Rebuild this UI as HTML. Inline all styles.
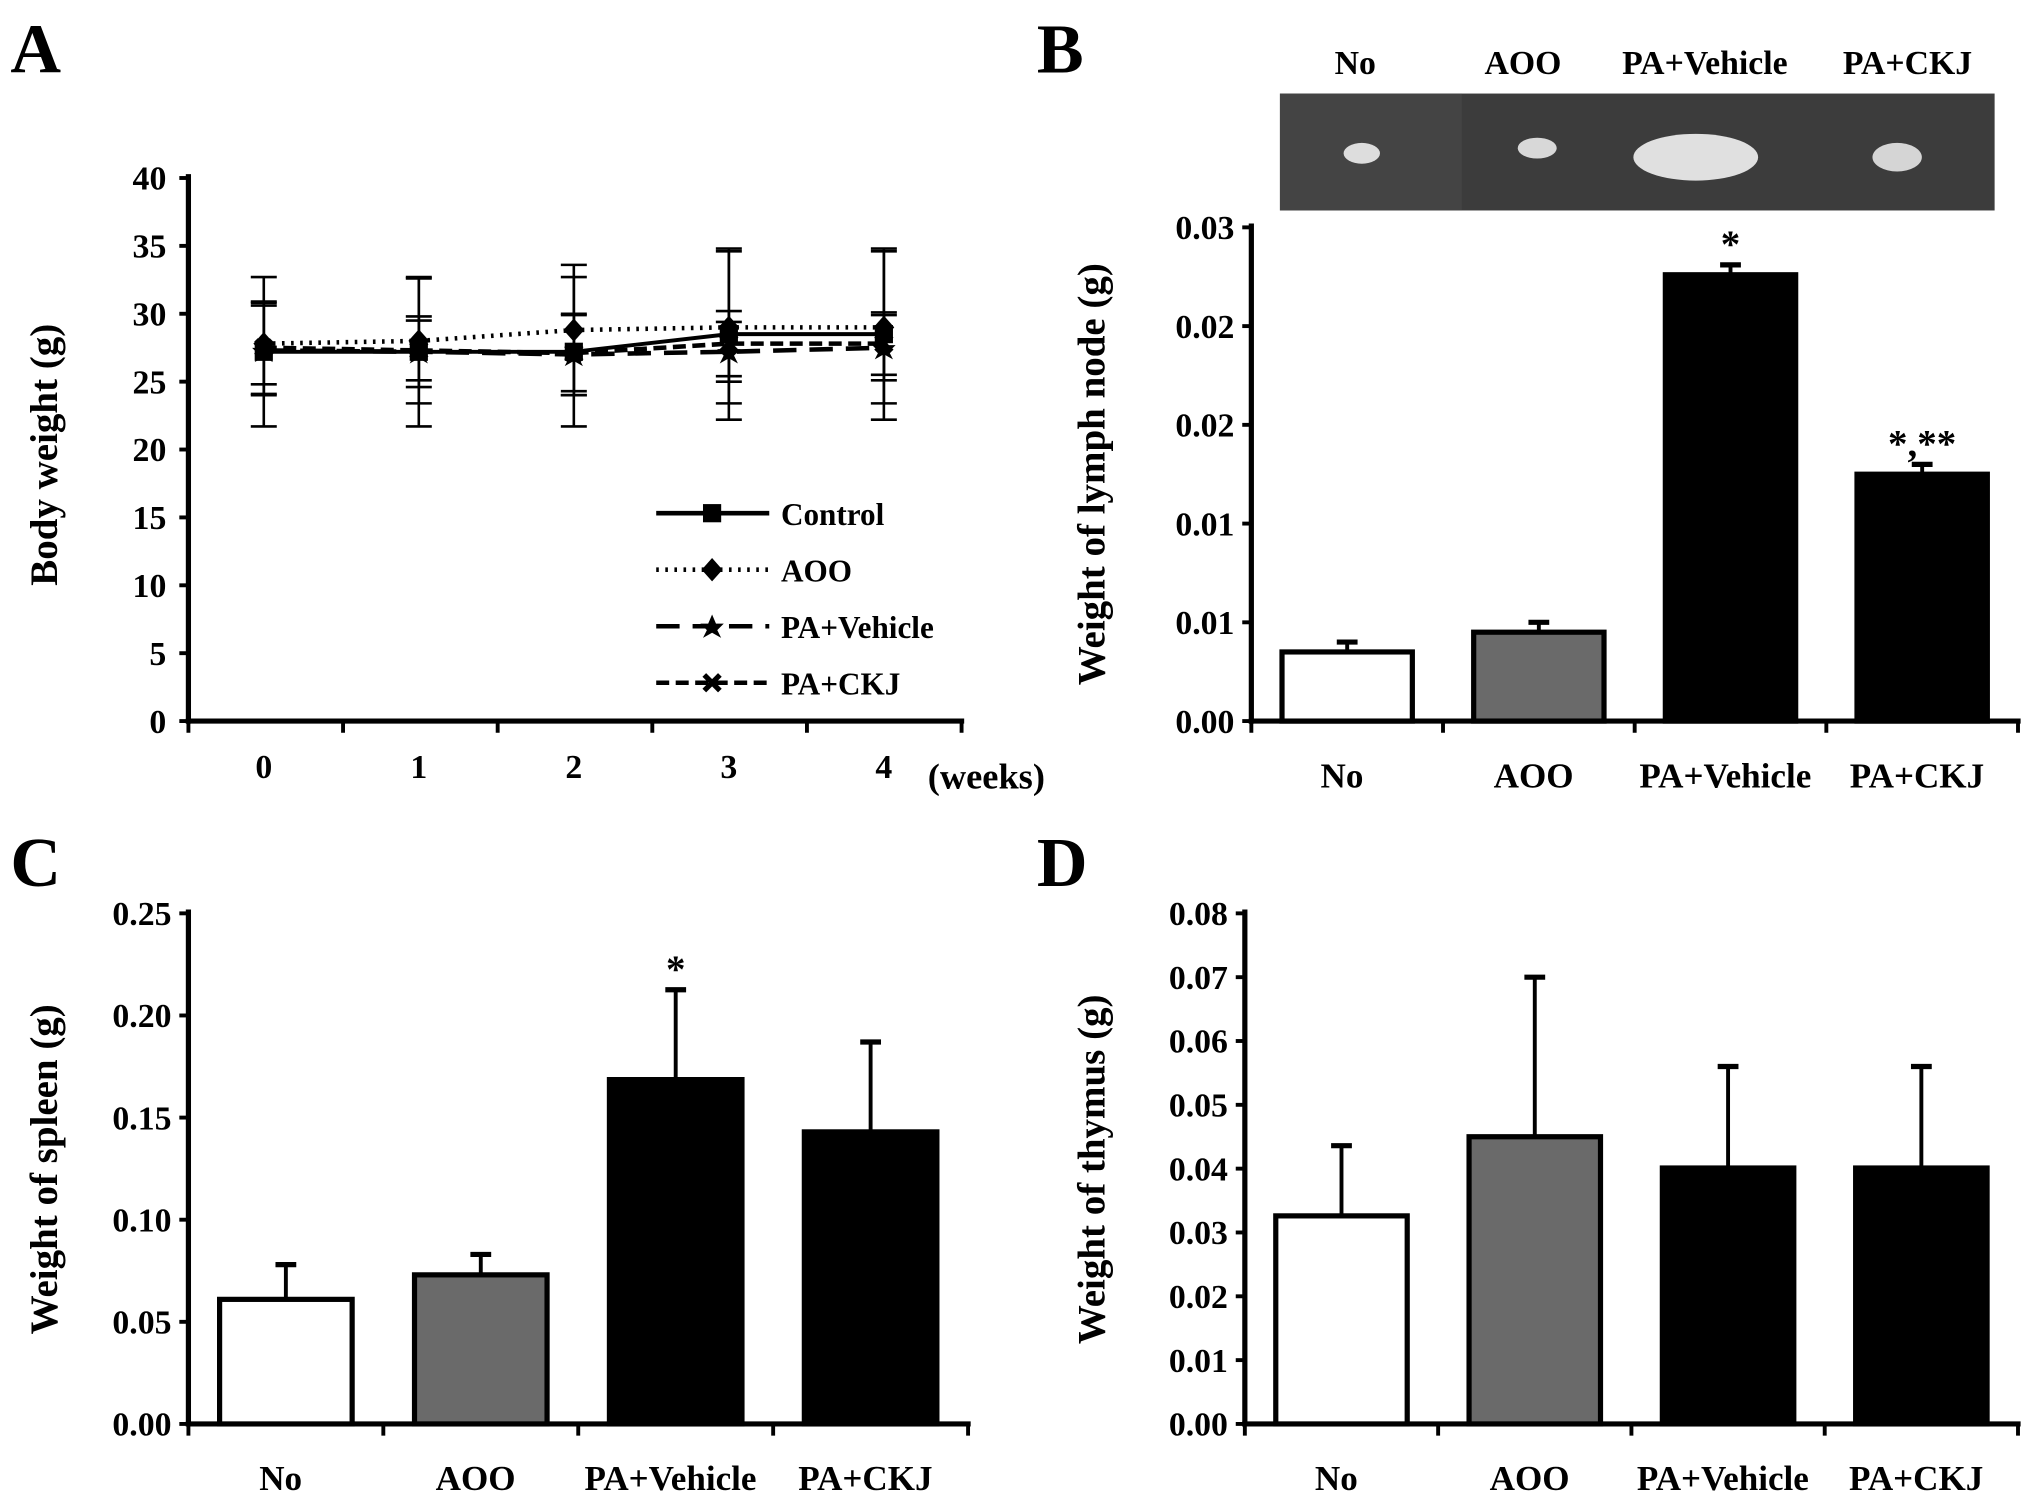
<!DOCTYPE html>
<html><head><meta charset="utf-8"><style>
html,body{margin:0;padding:0;background:#fff}
svg{display:block}
text{font-family:"Liberation Serif",serif;font-weight:bold;fill:#000}
</style></head><body>
<svg id="fig" width="2031" height="1498" viewBox="0 0 1563 1153" preserveAspectRatio="none" xmlns="http://www.w3.org/2000/svg">
<text x="8" y="56" font-size="54">A</text>
<text x="798" y="56" font-size="54">B</text>
<text x="8" y="682" font-size="54">C</text>
<text x="798" y="682" font-size="54">D</text>
<g>
<rect x="985" y="72" width="550" height="90" fill="#3c3c3c"/>
<rect x="985" y="72" width="140" height="90" fill="#444"/>
<ellipse cx="1048" cy="118" rx="14" ry="8" fill="#ddd"/>
<ellipse cx="1183" cy="114" rx="15" ry="8" fill="#d8d8d8"/>
<ellipse cx="1305" cy="121" rx="48" ry="18" fill="#e0e0e0"/>
<ellipse cx="1460" cy="121" rx="19" ry="11" fill="#d5d5d5"/>
</g>
<text x="1043" y="57" font-size="26" text-anchor="middle">No</text>
<text x="1172" y="57" font-size="26" text-anchor="middle">AOO</text>
<text x="1312" y="57" font-size="26" text-anchor="middle">PA+Vehicle</text>
<text x="1468" y="57" font-size="26" text-anchor="middle">PA+CKJ</text>
</svg>
<script>
// Panel A data
const weeks = [0,1,2,3,4];
const aTicks = [0,5,10,15,20,25,30,35,40];
const seriesNames = ['Control','AOO','PA+Vehicle','PA+CKJ'];
const controlVals = [27.2,27.2,27.2,28.5,28.5];
const aooVals = [27.8,28.0,28.8,29.0,29.0];
const vehicleVals = [27.3,27.2,27.0,27.2,27.5];
const ckjVals = [27.5,27.3,27.1,27.8,27.8];
const controlErr = [5.5,5.5,5.5,6.3,6.3];
const aooErr = [3.0,4.6,4.8,5.6,5.6];
const vehicleErr = [3.3,2.6,3.0,2.2,2.4];
const ckjErr = [3.4,2.2,2.8,2.4,2.3];
// Bar panels
const groups = ['No','AOO','PA+Vehicle','PA+CKJ'];
const lymphVals = [0.0035,0.0045,0.0226,0.0125];
const lymphErr = [0.0005,0.0005,0.0005,0.0005];
const lymphTicks = ['0.00','0.01','0.01','0.02','0.02','0.03'];
const spleenVals = [0.061,0.073,0.1686,0.143];
const spleenErr = [0.017,0.010,0.044,0.044];
const spleenTicks = ['0.00','0.05','0.10','0.15','0.20','0.25'];
const thymusVals = [0.0326,0.045,0.0401,0.0401];
const thymusErr = [0.011,0.025,0.0159,0.0159];
const thymusTicks = ['0.00','0.01','0.02','0.03','0.04','0.05','0.06','0.07','0.08'];

const NS='http://www.w3.org/2000/svg';
const svg=document.getElementById('fig');
function mk(tag,attrs,parent){const e=document.createElementNS(NS,tag);for(const k in attrs)e.setAttribute(k,attrs[k]);(parent||svg).appendChild(e);return e;}
function txt(x,y,s,size,anchor,parent){const t=mk('text',{x:x,y:y,'font-size':size,'text-anchor':anchor||'middle'},parent);t.textContent=s;return t;}

// ---- Panel A ----
const gA=mk('g',{});


const ax0=145, ay0=555, ayTop=137, axEnd=740;
const yA=v=>ay0-(v/40)*(ay0-ayTop);
const xA=w=>203+w*119.3;
mk('line',{x1:ax0,y1:ayTop-3,x2:ax0,y2:ay0+2,stroke:'#000','stroke-width':4},gA);
mk('line',{x1:ax0-2,y1:ay0,x2:axEnd+2,y2:ay0,stroke:'#000','stroke-width':4},gA);
aTicks.forEach(v=>{mk('line',{x1:ax0-7,y1:yA(v),x2:ax0,y2:yA(v),stroke:'#000','stroke-width':3},gA);
 const t=txt(128,yA(v)+9,String(v),26,'end',gA);
 
 });
for(let i=0;i<=5;i++){const x=ax0+i*(axEnd-ax0)/5;mk('line',{x1:x,y1:ay0,x2:x,y2:ay0+9,stroke:'#000','stroke-width':3},gA);}
weeks.forEach(w=>{const t=txt(xA(w),ay0+44,String(w),26,'middle',gA);
 
 });
const wk=txt(714,607,'(weeks)',28,'start',gA);


const ylA=txt(0,0,'Body weight (g)',30,'middle',gA);
ylA.setAttribute('transform','translate(44,350) rotate(-90)');


const allVals=[controlVals,aooVals,vehicleVals,ckjVals];
const allErr=[controlErr,aooErr,vehicleErr,ckjErr];
const dashes=['none','2,5','18,10','10,5'];
function marker(kind,x,y,parent){
 if(kind===0) return mk('rect',{x:x-7,y:y-7,width:14,height:14,fill:'#000'},parent);
 if(kind===1) return mk('polygon',{points:`${x},${y-9} ${x+8},${y} ${x},${y+9} ${x-8},${y}`,fill:'#000'},parent);
 if(kind===2) return mk('polygon',{points:`${x},${y-9} ${x+3},${y-2} ${x+9},${y-2} ${x+4},${y+3} ${x+7},${y+9} ${x},${y+5} ${x-7},${y+9} ${x-4},${y+3} ${x-9},${y-2} ${x-3},${y-2}`,fill:'#000'},parent);
 const g=mk('g',{},parent);mk('line',{x1:x-6,y1:y-6,x2:x+6,y2:y+6,stroke:'#000','stroke-width':4},g);mk('line',{x1:x+6,y1:y-6,x2:x-6,y2:y+6,stroke:'#000','stroke-width':4},g);return g;}
allVals.forEach((vals,si)=>{
 const g=mk('g',{},gA);
 
 
 vals.forEach((v,i)=>{const x=xA(weeks[i]),e=allErr[si][i];
  mk('line',{x1:x,y1:yA(v+e),x2:x,y2:yA(v-e),stroke:'#000','stroke-width':2},g);
  mk('line',{x1:x-10,y1:yA(v+e),x2:x+10,y2:yA(v+e),stroke:'#000','stroke-width':2},g);
  mk('line',{x1:x-10,y1:yA(v-e),x2:x+10,y2:yA(v-e),stroke:'#000','stroke-width':2},g);});
 const pts=vals.map((v,i)=>xA(weeks[i])+','+yA(v)).join(' ');
 const pl=mk('polyline',{points:pts,fill:'none',stroke:'#000','stroke-width':si===0?3:3.5},g);
 if(dashes[si]!=='none')pl.setAttribute('stroke-dasharray',dashes[si]);
 vals.forEach((v,i)=>marker(si,xA(weeks[i]),yA(v),g));
 const ly=395+si*43.5;
 const lg=mk('g',{},gA);
 
 
 const ll=mk('line',{x1:505,y1:ly,x2:592,y2:ly,stroke:'#000','stroke-width':3.5},lg);
 if(dashes[si]!=='none')ll.setAttribute('stroke-dasharray',dashes[si]);
 marker(si,548,ly,lg);
 txt(601,ly+9,seriesNames[si],24,'start',lg);
});

// ---- Bar panels ----
function barChart(name,cfg,vals,errs,ticks,maxV,stars){
 const g=mk('g',{});
 
 
 const {x0,y0,yTop,xEnd}=cfg;
 const y=v=>y0-(v/maxV)*(y0-yTop);
 mk('line',{x1:x0,y1:yTop-3,x2:x0,y2:y0+2,stroke:'#000','stroke-width':4},g);
 mk('line',{x1:x0-2,y1:y0,x2:xEnd+2,y2:y0,stroke:'#000','stroke-width':4},g);
 ticks.forEach((s,i)=>{const yy=y0-i*(y0-yTop)/(ticks.length-1);
  mk('line',{x1:x0-7,y1:yy,x2:x0,y2:yy,stroke:'#000','stroke-width':3},g);
  const t=txt(x0-13,yy+9,s,26,'end',g);
  
  });
 const slot=(xEnd-x0)/groups.length;
 for(let i=0;i<=groups.length;i++){const x=x0+i*slot;mk('line',{x1:x,y1:y0,x2:x,y2:y0+9,stroke:'#000','stroke-width':3},g);}
 const fills=['#fff','#6a6a6a','#000','#000'];
 groups.forEach((gn,i)=>{const cx=x0+(i+0.5)*slot,w=slot*0.68,v=vals[i],e=errs[i];
  mk('line',{x1:cx,y1:y(v),x2:cx,y2:y(v+e),stroke:'#000','stroke-width':3},g);
  mk('line',{x1:cx-8,y1:y(v+e),x2:cx+8,y2:y(v+e),stroke:'#000','stroke-width':4},g);
  const b=mk('rect',{x:cx-w/2,y:y(v),width:w,height:y0-y(v),fill:fills[i],stroke:'#000','stroke-width':4},g);
  
  
  const t=txt(cx-4,y0+51,gn,27,'middle',g);
  
  
  if(stars[i]){const st=mk('text',{x:cx,y:y(v+e)-6,'font-size':30,'text-anchor':'middle','font-family':'Liberation Sans, sans-serif','font-weight':'normal'},g);st.textContent=stars[i];
   
   }
 });
 const yl=txt(0,0,cfg.title,30,'middle',g);
 yl.setAttribute('transform',`translate(${cfg.tx},${cfg.ty}) rotate(-90)`);
 
 
}
barChart('lymph-node-chart',{x0:963,y0:555,yTop:175,xEnd:1553,title:'Weight of lymph node (g)',tx:850,ty:365},lymphVals,lymphErr,lymphTicks,0.025,['','','*','*,**']);
barChart('spleen-chart',{x0:145,y0:1096,yTop:703,xEnd:745,title:'Weight of spleen (g)',tx:44,ty:900},spleenVals,spleenErr,spleenTicks,0.25,['','','*','']);
barChart('thymus-chart',{x0:958,y0:1096,yTop:703,xEnd:1553,title:'Weight of thymus (g)',tx:850,ty:900},thymusVals,thymusErr,thymusTicks,0.08,['','','','']);
</script>
</body></html>
